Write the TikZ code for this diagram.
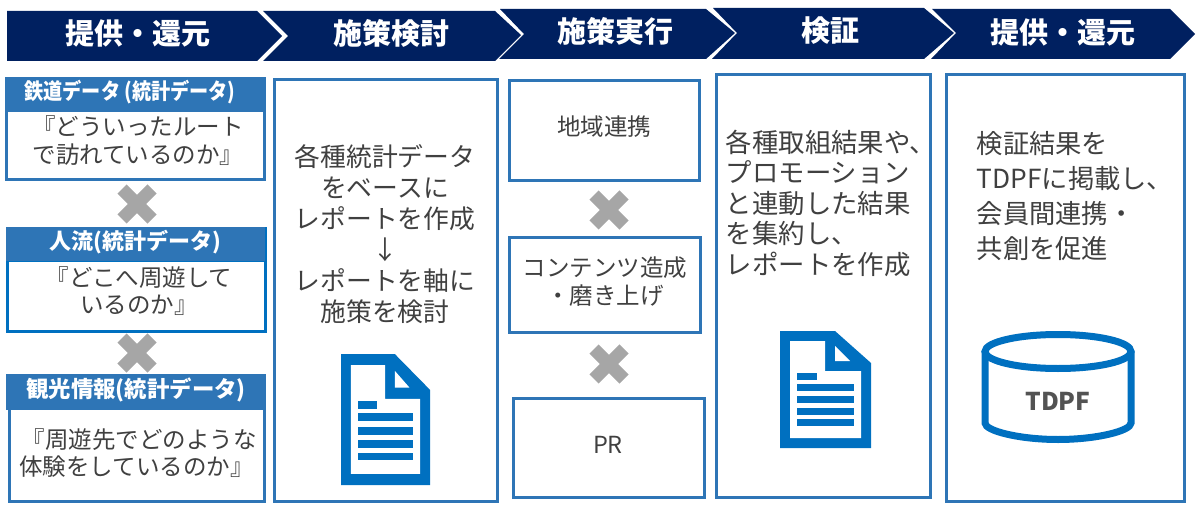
\documentclass[tikz,border=0pt]{standalone}
\usepackage{fontspec}
\usepackage{graphicx}
\setmainfont{Noto Sans CJK JP}
\definecolor{navy}{HTML}{002060}
\definecolor{panelblue}{HTML}{2E75B6}
\definecolor{iconblue}{HTML}{0070C0}
\definecolor{textgrey}{HTML}{404040}
\definecolor{crossgrey}{HTML}{A6A6A6}
\newcommand{\fsz}[2]{\fontsize{#1}{#2}\selectfont}
\tikzset{
  chevron/.style={fill=navy,draw=none},
  panel/.style={draw=panelblue,line width=3pt,fill=white},
  headbar/.style={fill=panelblue,draw=none},
  chevlabel/.style={text=white,font=\bfseries\fsz{29}{30},inner sep=0pt},
  headlabel/.style={text=white,font=\bfseries\fsz{22}{24},inner sep=0pt},
  quote/.style={text=textgrey,font=\fsz{23.5}{28},inner sep=0pt,align=center},
  bodytext/.style={text=textgrey,font=\fsz{25.8}{31},inner sep=0pt,align=center},
  smalltext/.style={text=textgrey,font=\fsz{23.5}{28},inner sep=0pt,align=center},
  crossarm/.style={draw=crossgrey,line width=13pt},
  iconline/.style={draw=iconblue,line width=7pt}
}
\newcommand{\crossmark}[2]{%
  \draw[crossarm] (#1-15,#2-15) -- (#1+15,#2+15);
  \draw[crossarm] (#1-15,#2+15) -- (#1+15,#2-15);}
% document icon, drawn in a 91 x 117 frame
\newcommand{\docicon}[4]{%
  \begin{scope}[shift={(#1,#2)},xscale=#3,yscale=#4]
    \fill[iconblue] (0,0) -- (55,0) -- (91,32) -- (91,117) -- (0,117) -- cycle;
    \fill[white] (10,10) -- (45,10) -- (45,40) -- (81,40) -- (81,107) -- (10,107) -- cycle;
    \fill[white] (55,15) -- (70,30) -- (55,30) -- cycle;
    \fill[iconblue] (17,42) rectangle (37,49);
    \fill[iconblue] (17,53) rectangle (74,60);
    \fill[iconblue] (17,65) rectangle (74,72);
    \fill[iconblue] (17,77) rectangle (74,84);
    \fill[iconblue] (17,88) rectangle (74,95);
  \end{scope}}
\begin{document}
\begin{tikzpicture}[x=1pt,y=-1pt]
\useasboundingbox (0,0) rectangle (1204,513);
% chevrons
\fill[chevron] (7,11) -- (257,11) -- (282,36) -- (257,61) -- (7,61) -- cycle;
\fill[chevron] (263,11) -- (495,11) -- (521,35) -- (495,61) -- (263,61) -- (288,36) -- cycle;
\fill[chevron] (500,9) -- (706,9) -- (735,33) -- (706,59) -- (499,59) -- (524,34) -- cycle;
\fill[chevron] (713,8) -- (924,8) -- (954,33) -- (924,59) -- (712,59) -- (737,33) -- cycle;
\fill[chevron] (932,9) -- (1170,9) -- (1195,34) -- (1170,59) -- (931,59) -- (956,33) -- cycle;
\node[chevlabel] (c1) at (138,33) {提供・還元};
\node[chevlabel] (c2) at (391,33) {施策検討};
\node[chevlabel] (c3) at (615,31) {施策実行};
\node[chevlabel] (c4) at (830,31) {検証};
\node[chevlabel] (c5) at (1063,32) {提供・還元};
% column 1
\draw[panel] (6.5,110) rectangle (264.5,180);
\fill[headbar] (5,77) rectangle (266,112);
\node[headlabel] (h1) at (130,92) {\scalebox{.87}[1]{鉄道データ (統計データ)}};
\node[quote] (q1) at (138,141) {『どういったルート\\で訪れているのか』};
\crossmark{137}{204}
\draw[panel,draw=iconblue] (7.5,260) rectangle (265.5,331.5);
\fill[headbar] (6,227) rectangle (265,261);
\fill[iconblue] (265,227) rectangle (267,261);
\node[headlabel] (h2) at (135,242) {人流(統計データ)};
\node[quote,font=\fsz{23.5}{27}] (q2) at (139,291.5) {『どこへ周遊して\\いるのか』};
\crossmark{137}{353}
\draw[panel] (9.5,408) rectangle (264.5,501);
\fill[headbar] (6,374) rectangle (266,410);
\node[headlabel,font=\bfseries\fsz{22.4}{24}] (h3) at (136,390) {観光情報(統計データ)};
\node[quote,font=\fsz{23.5}{27},align=left] (q3) at (138,453.5) {\hspace*{2pt}『周遊先でどのような\\体験をしているのか』};
% column 2
\draw[panel] (274.5,79.5) rectangle (497.5,501.5);
\node[bodytext] (t2) at (385,234) {各種統計データ\\をベースに\\レポートを作成\\↓\\レポートを軸に\\施策を検討};
\docicon{341}{354}{0.978}{1.12}
% column 3
\draw[panel] (509.5,80.5) rectangle (699.5,180.5);
\node[smalltext] (t3a) at (604,127) {地域連携};
\crossmark{609}{210}
\draw[panel] (509.5,237.5) rectangle (700.5,332);
\node[smalltext] (t3b) at (605,282) {コンテンツ造成\\・磨き上げ};
\crossmark{609}{364}
\draw[panel] (513,398.5) rectangle (704,497);
\node[smalltext] (t3c) at (608,445) {PR};
% column 4
\draw[panel] (716.5,74.5) rectangle (930.5,497);
\node[bodytext,align=left,font=\fsz{26.4}{30.5}] (t4) at (831,203) {各種取組結果や、\\プロモーション\\と連動した結果\\を集約し、\\レポートを作成};
\docicon{780}{331}{1}{1}
% column 5
\draw[panel] (946.5,74.5) rectangle (1184.5,501);
\node[bodytext,align=left,font=\fsz{26.3}{35}] (t5) at (1075,196) {検証結果を\\TDPFに掲載し、\\会員間連携・\\共創を促進};
\draw[iconline] (1058,351.5) ellipse [x radius=73,y radius=17];
\draw[iconline] (985,352) -- (985,423) .. controls (985,431) and (1020,439.5) .. (1058,439.5) .. controls (1096,439.5) and (1131,431) .. (1131,423) -- (1131,352);
\node[text=textgrey!90!white,font=\bfseries\fsz{24.5}{26},inner sep=0pt] (t6) at (1058,401) {TDPF};
\end{tikzpicture}
\end{document}
